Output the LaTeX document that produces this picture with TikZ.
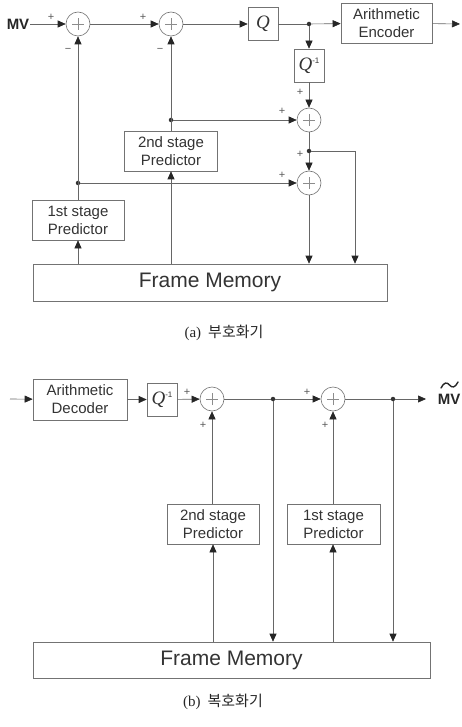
\documentclass[tikz,border=0pt]{standalone}
\usepackage{fontspec}
\setmainfont{Liberation Sans}
\newfontfamily\serif{Liberation Serif}
\newfontfamily\kor{Noto Sans CJK KR}
\usetikzlibrary{arrows.meta}
\tikzset{
  conn/.style={draw=black!60, line width=0.6pt},
  arr/.style={conn, -{Triangle[width=7pt,length=8pt,color=black!85]}},
  blk/.style={draw=black!55, line width=0.6pt, align=center, inner sep=0pt,
    font=\fontsize{15}{18}\selectfont, text=black!80},
  sumnode/.style={circle, draw=black!55, line width=0.6pt, minimum size=24pt, inner sep=0pt,
    path picture={\draw[black!45, line width=0.4pt]
      (path picture bounding box.center) ++(-6pt,0pt) -- ++(12pt,0pt)
      (path picture bounding box.center) ++(0pt,-6pt) -- ++(0pt,12pt);}},
  sgn/.style={font=\fontsize{11}{11}\selectfont, text=black!65, inner sep=0pt},
  jdot/.style={circle, fill=black!80, inner sep=0pt, minimum size=4.5pt},
  qfont/.style={font=\fontsize{19}{19}\serif\itshape},
  fmfont/.style={font=\fontsize{21}{24}\selectfont},
  captxt/.style={font=\fontsize{15}{18}\selectfont, text=black!85},
  mvfont/.style={font=\fontsize{15}{15}\selectfont\bfseries, text=black!85, inner sep=1pt}
}
\newcommand{\qinv}{{\fontsize{19}{19}\serif\itshape Q}\raisebox{7pt}{\fontsize{8}{8}\selectfont -1}}
\begin{document}
\begin{tikzpicture}[x=1pt,y=-1pt]
\useasboundingbox (0,0) rectangle (461,727);
% ---------- (a) encoder ----------
\node[mvfont] (mv) at (18,24) {MV};
\node[sumnode] (s1) at (78,24) {};
\node[sumnode] (s2) at (171,24) {};
\node[blk, minimum width=30pt, minimum height=33pt, qfont] (q) at (263,24) {Q};
\node[jdot] (d1) at (309,24) {};
\node[blk, minimum width=91pt, minimum height=40pt] (enc) at (386.5,23) {Arithmetic\\Encoder};
\coordinate (out1) at (460,24);
\node[blk, minimum width=30pt, minimum height=33pt] (qi) at (309,65.5) {\qinv};
\node[sumnode] (s3) at (309,120) {};
\node[jdot] (d2) at (309,151) {};
\node[sumnode] (s4) at (309,183) {};
\node[jdot] (d3) at (171,120) {};
\node[jdot] (d4) at (78,183) {};
\node[blk, minimum width=93pt, minimum height=40pt] (p2) at (171,151) {2nd stage\\Predictor};
\node[blk, minimum width=92pt, minimum height=40pt] (p1) at (78,220) {1st stage\\Predictor};
\node[blk, minimum width=354pt, minimum height=37pt, fmfont] (fm1) at (210,282.5) {Frame Memory};
\coordinate (c1) at (355,151);

\draw[arr] (mv) -- (s1);
\draw[arr] (s1) -- (s2);
\draw[arr] (s2) -- (q);
\draw[conn] (q) -- (d1);
\draw[arr] (d1) -- (enc);
\draw[arr] (enc) -- (out1);
\draw[arr] (d1) -- (qi);
\draw[arr] (qi) -- (s3);
\draw[conn] (s3) -- (d2);
\draw[arr] (d2) -- (s4);
\draw[arr] (d2) -- (c1) -- (c1 |- fm1.north);
\draw[arr] (s4) -- (s4 |- fm1.north);
\draw[arr] (d3) -- (s3);
\draw[arr] (d4) -- (s4);
\draw[arr] (p2.north) -- (s2.south);
\draw[arr] (p1.north) -- (s1.south);
\draw[arr] (fm1.north -| p1) -- (p1.south);
\draw[arr] (fm1.north -| p2) -- (p2.south);

\node[sgn] (a1) at (51,17) {+};
\node[sgn] (a2) at (68,50) {\textminus};
\node[sgn] (a3) at (143,17) {+};
\node[sgn] (a4) at (160,50) {\textminus};
\node[sgn] (a5) at (300,92) {+};
\node[sgn] (a6) at (282,111) {+};
\node[sgn] (a7) at (300,154) {+};
\node[sgn] (a8) at (282,175) {+};

\node[captxt] (capa) at (224,333) {\serif (a)\hspace{7pt}\kor 부호화기};

% ---------- (b) decoder ----------
\coordinate (in2) at (10,399);
\node[blk, minimum width=94pt, minimum height=41pt] (dec) at (80,399.5) {Arithmetic\\Decoder};
\node[blk, minimum width=30pt, minimum height=33pt] (qi2) at (162,399.5) {\qinv};
\node[sumnode] (s5) at (212,399) {};
\node[jdot] (d5) at (273,399) {};
\node[sumnode] (s6) at (333,399) {};
\node[jdot] (d6) at (393,399) {};
\coordinate (out2) at (426,399);
\node[mvfont] (mvt) at (449,399) {MV};
\draw[black!85, line width=1.4pt, line cap=round]
  (441,388) .. controls (444,382) and (447,382) .. (449.5,385)
  .. controls (452,388) and (455,388) .. (458,382);
\node[blk, minimum width=92pt, minimum height=40pt] (p2b) at (213,524) {2nd stage\\Predictor};
\node[blk, minimum width=93pt, minimum height=40pt] (p1b) at (333.5,524) {1st stage\\Predictor};
\node[blk, minimum width=397pt, minimum height=36pt, fmfont] (fm2) at (231.5,660) {Frame Memory};

\draw[arr] (in2) -- (dec);
\draw[arr] (dec) -- (qi2);
\draw[arr] (qi2) -- (s5);
\draw[conn] (s5) -- (d5);
\draw[arr] (d5) -- (s6);
\draw[conn] (s6) -- (d6);
\draw[arr] (d6) -- (out2);
\draw[arr] (d5) -- (d5 |- fm2.north);
\draw[arr] (d6) -- (d6 |- fm2.north);
\draw[arr] (p2b.north -| s5) -- (s5.south);
\draw[arr] (p1b.north -| s6) -- (s6.south);
\draw[arr] (fm2.north -| p2b) -- (p2b.south);
\draw[arr] (fm2.north -| s6) -- (p1b.south -| s6);

\node[sgn] (b1) at (187,392) {+};
\node[sgn] (b2) at (203,425) {+};
\node[sgn] (b3) at (307,392) {+};
\node[sgn] (b4) at (325,425) {+};

\node[captxt] (capb) at (223,702) {\serif (b)\hspace{7pt}\kor 복호화기};
\end{tikzpicture}
\end{document}
